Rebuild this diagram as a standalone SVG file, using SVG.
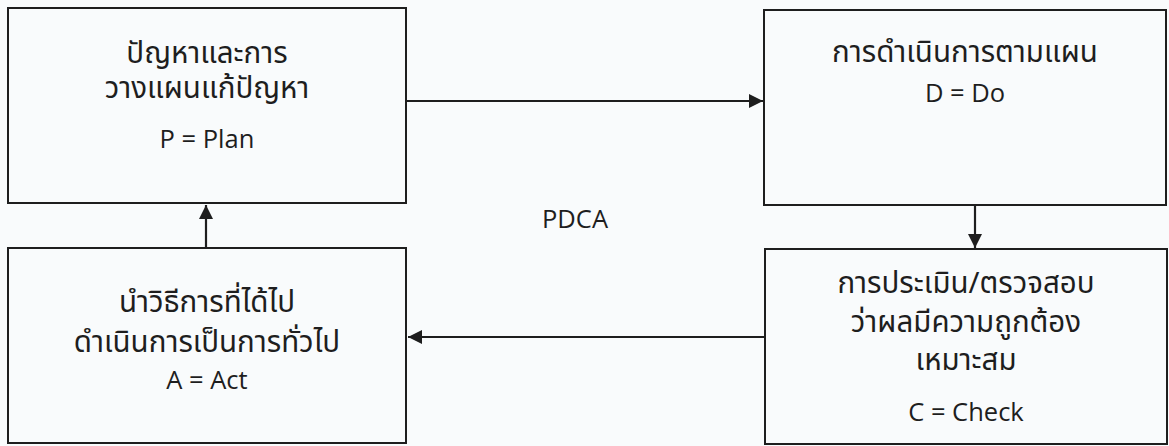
<svg xmlns="http://www.w3.org/2000/svg" width="1169" height="446" viewBox="0 0 1169 446">
<style>
.box{fill:none;stroke:#1e1e1e;stroke-width:2}
.t{font-family:"Noto Sans Thai","Noto Sans","Open Sans",sans-serif;font-size:29.5px;fill:#1e1e1e;text-anchor:middle}
.l{font-family:"Open Sans","Noto Sans",sans-serif;font-size:25.5px;fill:#1e1e1e;text-anchor:middle}
.c{stroke:#1e1e1e;stroke-width:2.2;fill:none}
</style>
<defs>
<marker id="ah" viewBox="0 0 10 10" refX="10" refY="5" markerWidth="6.5" markerHeight="6.5" markerUnits="strokeWidth" orient="auto">
<path d="M0,0 L10,5 L0,10 z" fill="#1e1e1e"/>
</marker>
</defs>
<rect width="1169" height="446" fill="#f9fbfc"/>
<g id="node-plan">
<rect class="box" x="8" y="8" width="398" height="195"/>
<text class="t" x="207" y="63">ปัญหาและการ</text>
<text class="t" x="207" y="98">วางแผนแก้ปัญหา</text>
<text class="l" x="207" y="148">P = Plan</text>
</g>
<g id="node-do">
<rect class="box" x="764" y="10" width="402" height="195"/>
<text class="t" x="965" y="62">การดำเนินการตามแผน</text>
<text class="l" x="965" y="102">D = Do</text>
</g>
<g id="node-act">
<rect class="box" x="8" y="248" width="398" height="195"/>
<text class="t" x="207" y="312">นำวิธีการที่ได้ไป</text>
<text class="t" x="207" y="352">ดำเนินการเป็นการทั่วไป</text>
<text class="l" x="207" y="389">A = Act</text>
</g>
<g id="node-check">
<rect class="box" x="765" y="249" width="402" height="195"/>
<text class="t" x="966" y="293">การประเมิน/ตรวจสอบ</text>
<text class="t" x="966" y="332">ว่าผลมีความถูกต้อง</text>
<text class="t" x="966" y="370">เหมาะสม</text>
<text class="l" x="966" y="421">C = Check</text>
</g>
<g id="label-pdca">
<text class="l" x="575" y="228">PDCA</text>
</g>
<g id="connectors">
<line class="c" x1="407" y1="101" x2="763" y2="101" marker-end="url(#ah)"/>
<line class="c" x1="975" y1="206" x2="975" y2="248" marker-end="url(#ah)"/>
<line class="c" x1="764" y1="337" x2="408" y2="337" marker-end="url(#ah)"/>
<line class="c" x1="206" y1="247" x2="206" y2="205" marker-end="url(#ah)"/>
</g>
</svg>
